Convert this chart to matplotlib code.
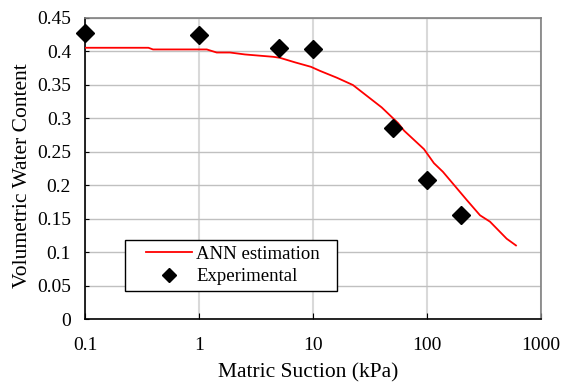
import matplotlib
matplotlib.use("Agg")
import matplotlib.pyplot as plt
from matplotlib.patches import Rectangle
import numpy as np

plt.rcParams['font.family'] = ['Liberation Serif', 'DejaVu Serif']

# ANN estimation curve
ann_suction = [0.1, 0.36, 0.395, 1.17, 1.43, 1.87, 2.53, 4.46, 5.1, 6.95, 9.6, 11.5,
               16.2, 22.4, 40, 55.7, 63, 94, 115, 138, 223, 292, 357, 500, 603]
ann_theta = [0.4055, 0.4055, 0.403, 0.403, 0.3984, 0.3984, 0.3955, 0.392, 0.3906, 0.3837,
             0.377, 0.371, 0.3607, 0.3498, 0.3164, 0.293, 0.2815, 0.254, 0.233, 0.22,
             0.178, 0.155, 0.1455, 0.12, 0.11]

# experimental points
exp_suction = [0.1, 1, 5, 10, 50, 100, 200]
exp_theta = [0.428, 0.425, 0.405, 0.403, 0.285, 0.208, 0.155]

fig = plt.figure(figsize=(5.61, 3.83), dpi=100)
ax = fig.add_axes([85 / 561, 1 - 319 / 383, 456 / 561, 301 / 383])

ax.plot(ann_suction, ann_theta, color='#ff0000', lw=1.3, label='ANN estimation', zorder=3)
ax.plot(exp_suction, exp_theta, 'D', color='black', ms=9, label='Experimental',
        clip_on=False, zorder=4)

ax.set_xscale('log')
ax.set_xlim(0.1, 1000)
ax.set_ylim(0, 0.45)
ax.set_xticks([0.1, 1, 10, 100, 1000])
ax.set_xticklabels(['0.1', '1', '10', '100', '1000'])
ax.minorticks_off()
ax.set_yticks(np.arange(0, 0.46, 0.05))
ax.set_yticklabels(['0', '0.05', '0.1', '0.15', '0.2', '0.25', '0.3', '0.35', '0.4', '0.45'])

ax.xaxis.grid(True, color='#d9d9d9', lw=1.5)
ax.yaxis.grid(True, color='#c0c0c0', lw=1)
ax.set_axisbelow(True)
for s in ['top', 'right']:
    ax.spines[s].set_color('#808080')
    ax.spines[s].set_linewidth(1.2)
for s in ['left', 'bottom']:
    ax.spines[s].set_color('black')
    ax.spines[s].set_linewidth(1.2)

ax.tick_params(axis='x', direction='in', length=4, pad=13, labelsize=14)
ax.tick_params(axis='y', direction='in', length=3, pad=10, labelsize=14)

ax.set_xlabel('Matric Suction (kPa)', fontsize=15.5)
ax.set_ylabel('Volumetric Water Content', fontsize=15.5)
ax.xaxis.set_label_coords(0.49, -0.148)
ax.yaxis.set_label_coords(-0.117, 0.475)

# legend box drawn separately so the entries can sit inset like the original
ax.add_patch(Rectangle((0.0877, 0.093), 0.465, 0.169, transform=ax.transAxes,
                       facecolor='white', edgecolor='black', lw=1, zorder=5))
leg = ax.legend(loc='center left', bbox_to_anchor=(0.134, 0.178), frameon=False,
                fontsize=13.5, borderpad=0, labelspacing=0.28, handlelength=2.45,
                handletextpad=0.21, markerscale=0.75, borderaxespad=0)
leg.set_zorder(6)

fig.savefig('out.png', dpi=100)
